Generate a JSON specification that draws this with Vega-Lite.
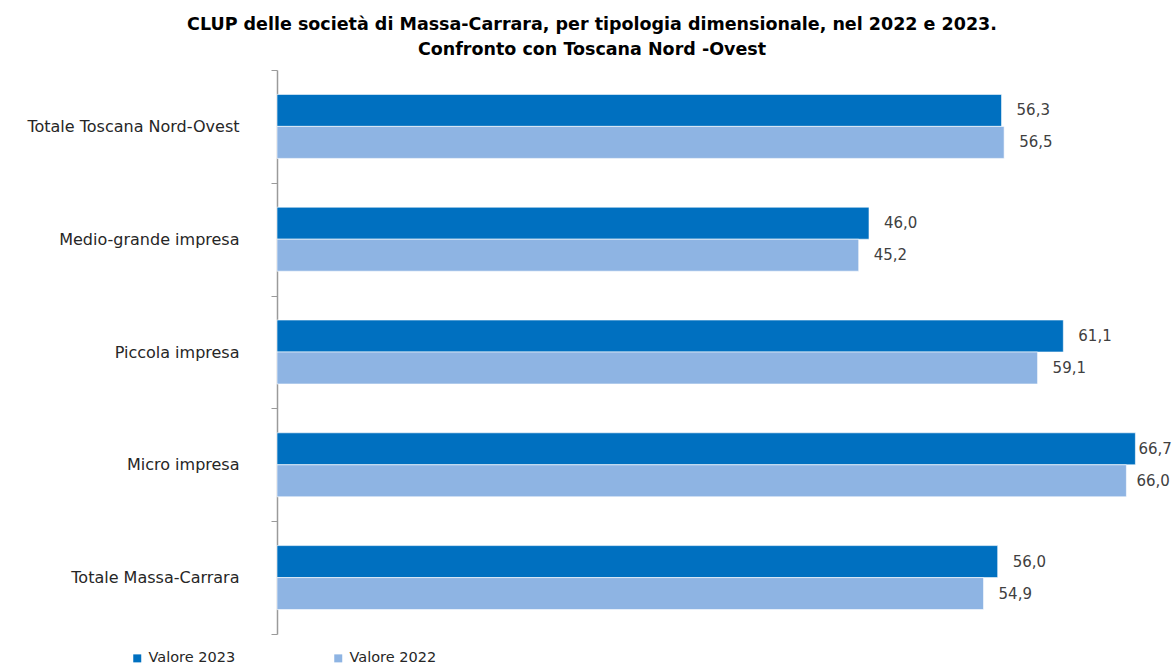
{
  "$schema": "https://vega.github.io/schema/vega-lite/v6.json",
  "width": 888,
  "height": 564,
  "autosize": {"type": "none"},
  "padding": {"left": 277, "top": 70, "right": 9, "bottom": 34},
  "background": "white",
  "config": {
    "view": {"stroke": null},
    "locale": {"number": {"decimal": ",", "thousands": ".", "grouping": [3], "currency": ["€", ""]}}
  },
  "title": {
    "text": ["CLUP delle società di Massa-Carrara, per tipologia dimensionale, nel 2022 e 2023.", "Confronto con Toscana Nord -Ovest"],
    "anchor": "middle",
    "dx": -129,
    "font": "DejaVu Sans",
    "fontSize": 17.5,
    "fontWeight": "bold",
    "color": "#000000",
    "lineHeight": 25,
    "offset": 4
  },
  "data": {
    "values": [
      {"cat": "Totale Toscana Nord-Ovest", "year": "2023", "value": 56.3},
      {"cat": "Totale Toscana Nord-Ovest", "year": "2022", "value": 56.5},
      {"cat": "Medio-grande impresa", "year": "2023", "value": 46.0},
      {"cat": "Medio-grande impresa", "year": "2022", "value": 45.2},
      {"cat": "Piccola impresa", "year": "2023", "value": 61.1},
      {"cat": "Piccola impresa", "year": "2022", "value": 59.1},
      {"cat": "Micro impresa", "year": "2023", "value": 66.7},
      {"cat": "Micro impresa", "year": "2022", "value": 66.0},
      {"cat": "Totale Massa-Carrara", "year": "2023", "value": 56.0},
      {"cat": "Totale Massa-Carrara", "year": "2022", "value": 54.9}
    ]
  },
  "encoding": {
    "y": {
      "field": "cat",
      "type": "nominal",
      "sort": ["Totale Toscana Nord-Ovest", "Medio-grande impresa", "Piccola impresa", "Micro impresa", "Totale Massa-Carrara"],
      "scale": {"paddingInner": 0, "paddingOuter": 0},
      "axis": {
        "title": null,
        "tickBand": "extent",
        "tickSize": 6,
        "tickColor": "#9a9a9a",
        "domainColor": "#9a9a9a",
        "domainWidth": 1.5,
        "labelPadding": 32,
        "labelFont": "DejaVu Sans",
        "labelFontSize": 16,
        "labelColor": "#262626",
        "labelLimit": 300
      }
    },
    "yOffset": {
      "field": "year",
      "type": "nominal",
      "sort": ["2023", "2022"],
      "scale": {"paddingInner": 0, "paddingOuter": 0.7625}
    },
    "x": {
      "field": "value",
      "type": "quantitative",
      "scale": {"domain": [0, 69]},
      "axis": null
    }
  },
  "layer": [
    {
      "mark": {"type": "bar", "stroke": "#ffffff", "strokeWidth": 1, "strokeOpacity": 0.6},
      "encoding": {
        "color": {
          "field": "year",
          "type": "nominal",
          "scale": {"domain": ["2023", "2022"], "range": ["#0070C0", "#8EB4E3"]},
          "legend": {
            "title": null,
            "orient": "none",
            "legendX": -147,
            "legendY": 581,
            "direction": "horizontal",
            "symbolType": "square",
            "symbolSize": 64,
            "symbolStrokeWidth": 0,
            "labelFont": "DejaVu Sans",
            "labelFontSize": 14.5,
            "labelColor": "#262626",
            "columnPadding": 95,
            "labelExpr": "'Valore ' + datum.label"
          }
        }
      }
    },
    {
      "transform": [{"filter": "datum.cat != 'Micro impresa'"}],
      "mark": {"type": "text", "align": "left", "baseline": "middle", "dx": 15, "font": "DejaVu Sans", "fontSize": 15, "color": "#404040"},
      "encoding": {"text": {"field": "value", "type": "quantitative", "format": ".1f"}}
    },
    {
      "transform": [{"filter": "datum.cat == 'Micro impresa' && datum.year == '2023'"}],
      "mark": {"type": "text", "align": "left", "baseline": "middle", "dx": 3, "font": "DejaVu Sans", "fontSize": 15, "color": "#404040"},
      "encoding": {"text": {"field": "value", "type": "quantitative", "format": ".1f"}}
    },
    {
      "transform": [{"filter": "datum.cat == 'Micro impresa' && datum.year == '2022'"}],
      "mark": {"type": "text", "align": "left", "baseline": "middle", "dx": 10, "font": "DejaVu Sans", "fontSize": 15, "color": "#404040"},
      "encoding": {"text": {"field": "value", "type": "quantitative", "format": ".1f"}}
    }
  ]
}
